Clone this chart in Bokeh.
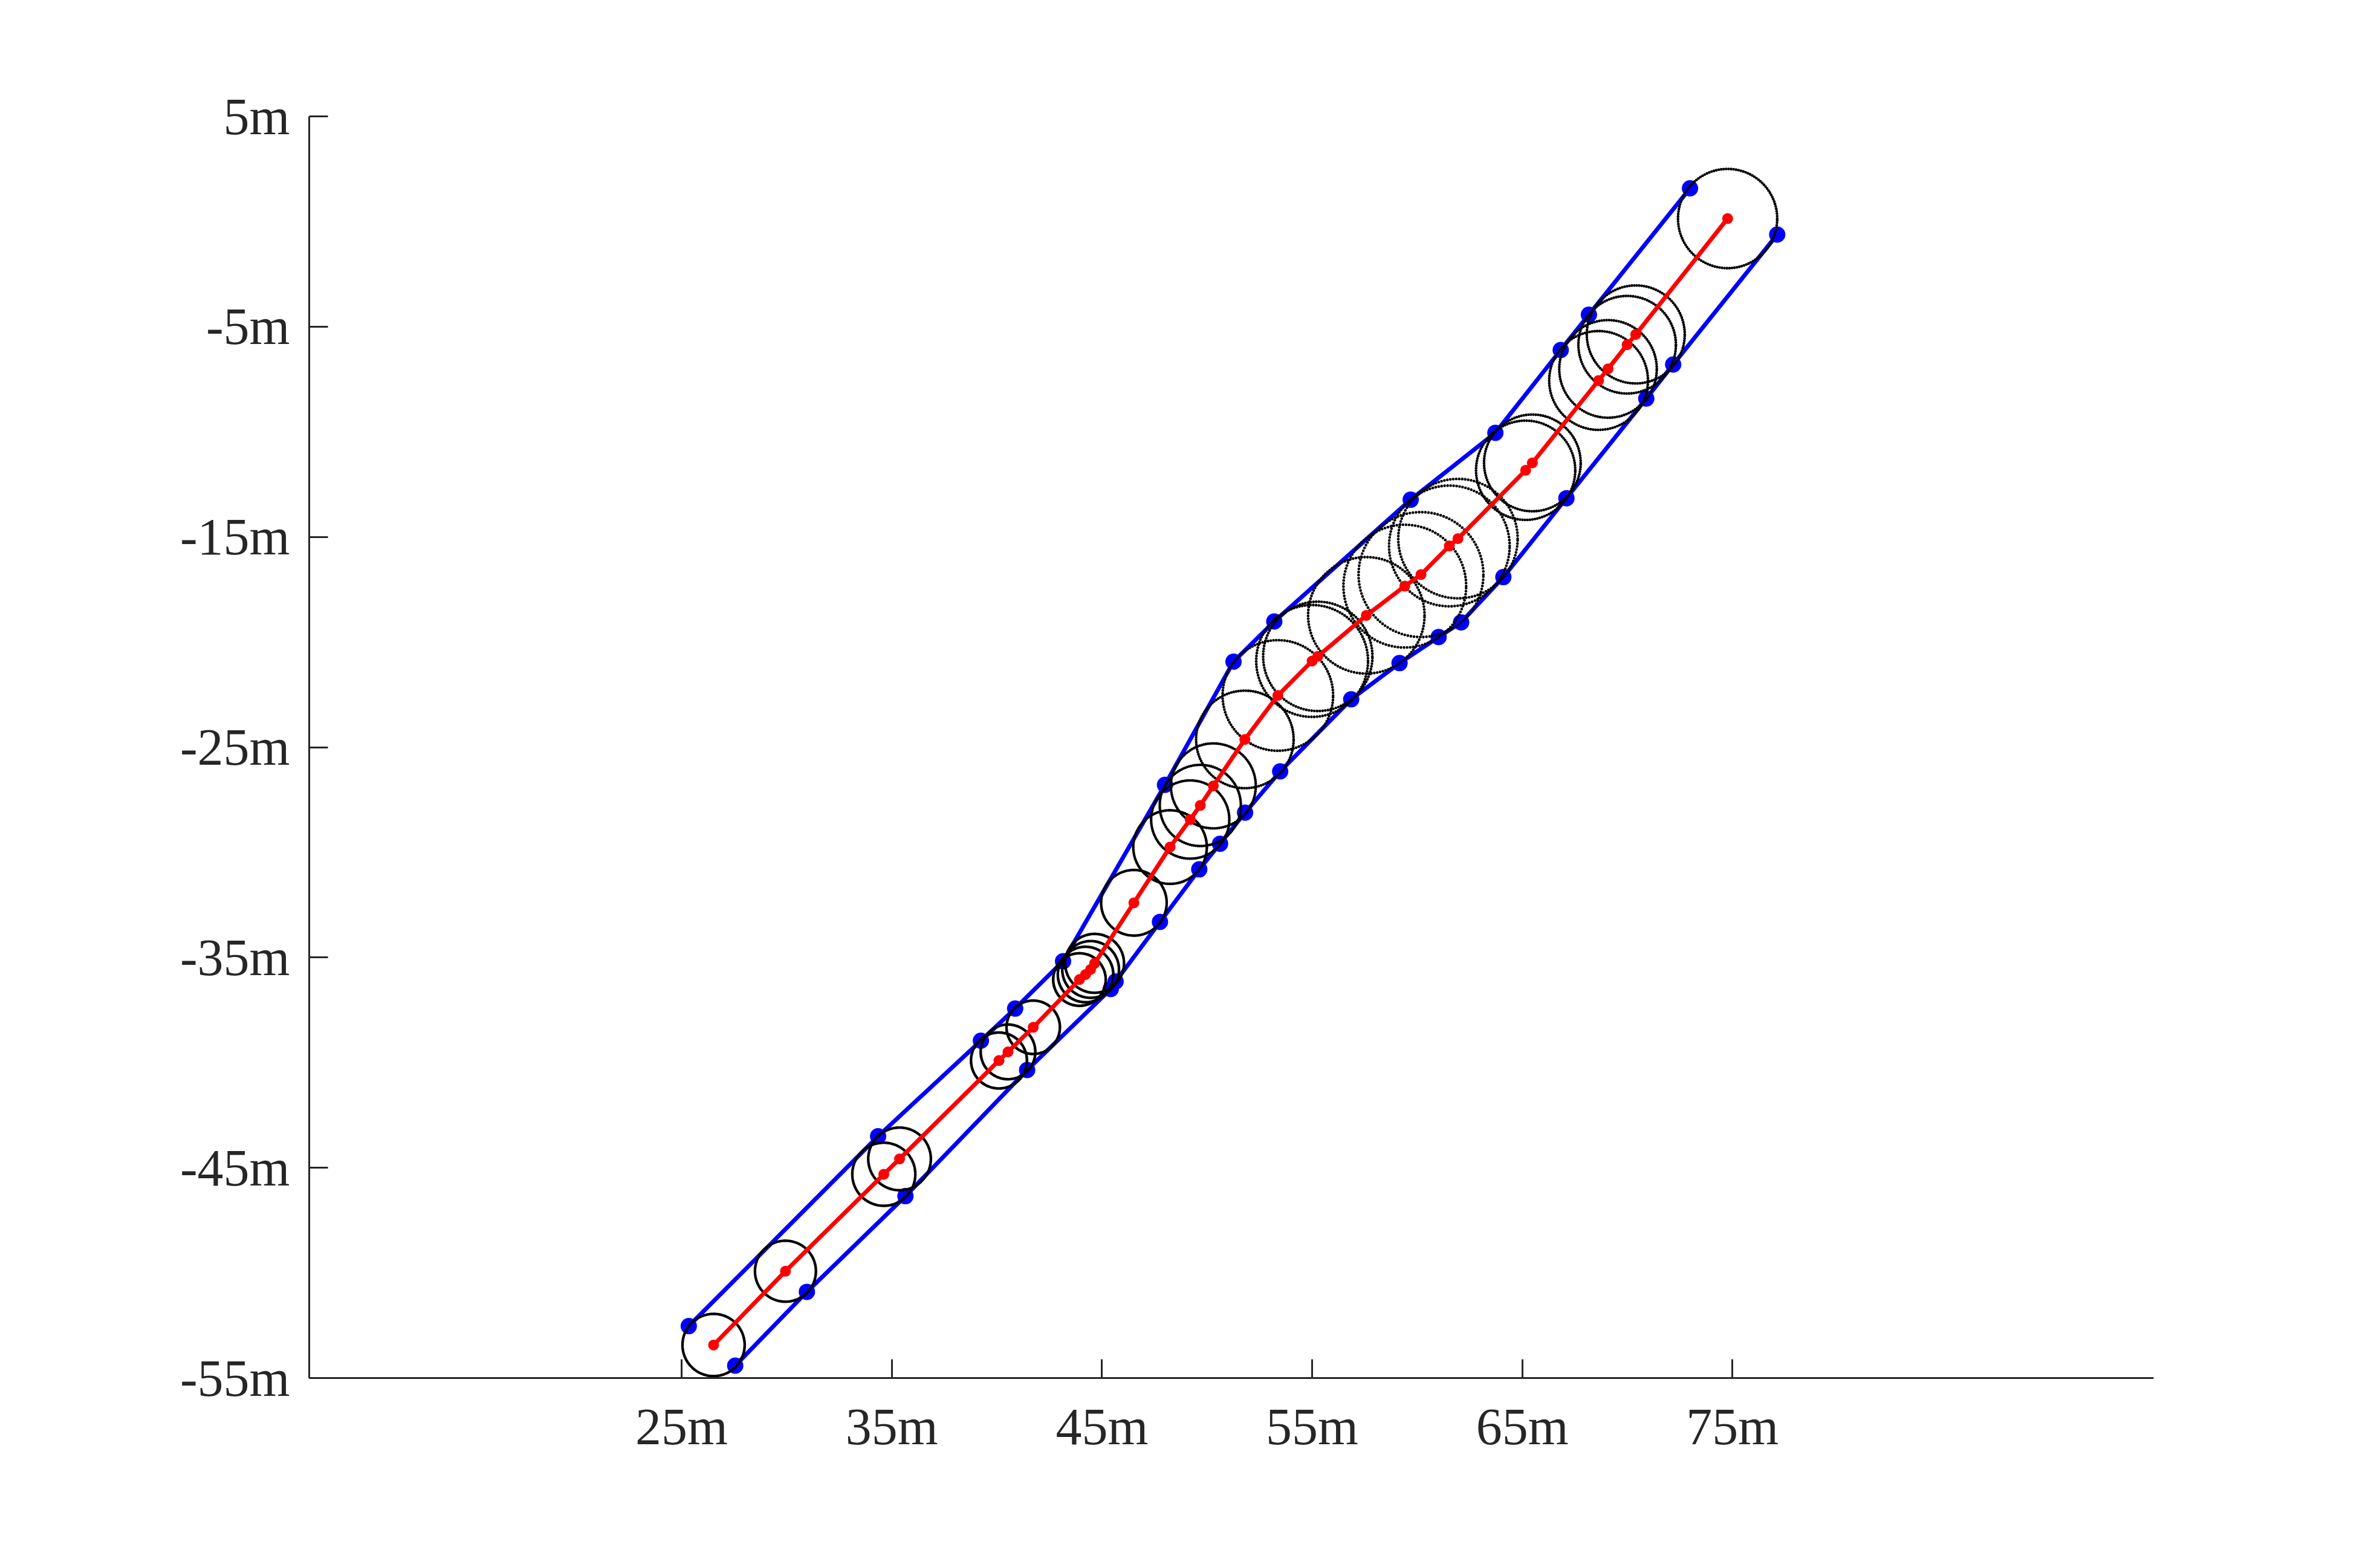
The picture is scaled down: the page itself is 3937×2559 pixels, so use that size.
import numpy as np
from bokeh.plotting import figure
from bokeh.models import FixedTicker, Range1d
from bokeh.embed import file_html
from bokeh.resources import INLINE

# ---- data ----
center_x = [26.52, 29.94, 34.62, 35.37, 40.10, 40.53, 41.73, 43.93, 44.22, 44.46, 44.65,
            46.52, 48.24, 49.20, 49.68, 50.30, 51.80, 53.37, 55.00, 55.27, 57.58, 59.41,
            60.18, 61.53, 61.94, 65.16, 65.48, 68.63, 69.08, 69.99, 70.40, 74.77]
center_y = [-53.43, -49.92, -45.31, -44.58, -39.90, -39.49, -38.32, -36.05, -35.81, -35.57, -35.28,
            -32.40, -29.75, -28.44, -27.77, -26.84, -24.63, -22.54, -20.90, -20.68, -18.73, -17.34,
            -16.79, -15.43, -15.08, -11.83, -11.48, -7.56, -7.01, -5.86, -5.37, 0.14]
radius = [1.48, 1.45, 1.50, 1.49, 1.33, 1.30, 1.27, 1.25, 1.32, 1.35, 1.40,
          1.56, 1.75, 1.86, 1.93, 2.02, 2.32, 2.63, 2.66, 2.60, 2.77, 2.92,
          2.97, 2.87, 2.84, 2.36, 2.30, 2.35, 2.32, 2.32, 2.33, 2.36]

left_x = [25.34, 34.35, 39.24, 40.87, 43.15, 48.00, 51.26, 53.20, 59.69, 63.72, 66.83, 68.17, 72.98]
left_y = [-52.53, -43.50, -38.96, -37.43, -35.18, -26.79, -20.93, -19.02, -13.23, -10.05, -6.11, -4.43, 1.58]

right_x = [27.55, 30.96, 35.65, 41.44, 45.42, 45.65, 47.76, 49.63, 50.62, 51.81, 53.48, 56.86,
           59.16, 61.02, 62.09, 64.10, 67.10, 70.90, 72.18, 77.13]
right_y = [-54.41, -50.90, -46.35, -40.35, -36.50, -36.14, -33.31, -30.81, -29.59, -28.11, -26.15, -22.72,
           -21.00, -19.76, -19.06, -16.91, -13.16, -8.42, -6.80, -0.62]

x_ticks = [25, 35, 45, 55, 65, 75]
x_tick_labels = ["25m", "35m", "45m", "55m", "65m", "75m"]
y_ticks = [-55, -45, -35, -25, -15, -5, 5]
y_tick_labels = ["-55m", "-45m", "-35m", "-25m", "-15m", "-5m", "5m"]

# ---- figure ----
AX = "#262626"
p = figure(output_backend="svg", toolbar_location=None,
           frame_width=3051, frame_height=2087,
           min_border_left=511, min_border_right=359,
           min_border_top=192, min_border_bottom=264,
           x_range=Range1d(7.28, 95.04), y_range=Range1d(-55, 5))
p.outline_line_color = None
p.grid.visible = False
p.background_fill_color = "white"
p.border_fill_color = "white"

for ax, ticks, labels in ((p.xaxis[0], x_ticks, x_tick_labels), (p.yaxis[0], y_ticks, y_tick_labels)):
    ax.ticker = FixedTicker(ticks=ticks)
    ax.major_label_overrides = {t: l for t, l in zip(ticks, labels)}
    ax.axis_line_color = AX
    ax.axis_line_width = 3
    ax.major_tick_line_color = AX
    ax.major_tick_line_width = 3
    ax.major_tick_in = 31
    ax.major_tick_out = 0
    ax.minor_tick_line_color = None
    ax.major_label_text_font = "Liberation Serif"
    ax.major_label_text_font_size = "86px"
    ax.major_label_text_color = AX
    ax.major_label_standoff = 32

# blue boundaries
p.line(left_x, left_y, line_color="#0000FF", line_width=7)
p.line(right_x, right_y, line_color="#0000FF", line_width=7)
p.scatter(left_x, left_y, size=27, fill_color="#0000FF", line_color=None)
p.scatter(right_x, right_y, size=27, fill_color="#0000FF", line_color=None)

# dotted circles (each outline drawn as sampled points)
theta = np.arange(0, 2 * np.pi, 0.05)
cx = np.asarray(center_x)[:, None]
cy = np.asarray(center_y)[:, None]
rr = np.asarray(radius)[:, None]
dots_x = (cx + rr * np.cos(theta)[None, :]).ravel()
dots_y = (cy + rr * np.sin(theta)[None, :]).ravel()
p.scatter(dots_x, dots_y, size=4.6, fill_color="black", line_color=None)

# red centre path
p.line(center_x, center_y, line_color="#FF0000", line_width=7)
p.scatter(center_x, center_y, size=18, fill_color="#FF0000", line_color=None)

open("out.html", "w").write(file_html(p, INLINE))
